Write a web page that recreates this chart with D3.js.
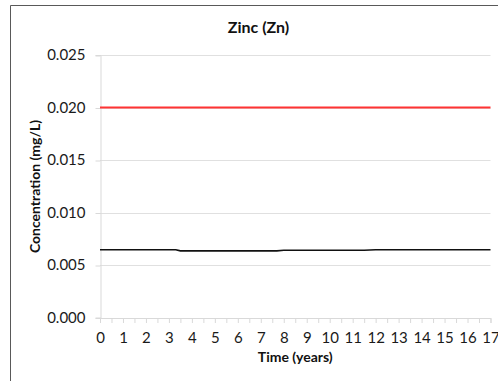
<!DOCTYPE html>
<html>
<head>
<meta charset="utf-8">
<script src="https://cdn.jsdelivr.net/npm/d3@7"></script>
<style>
  body { margin: 0; background: #fff; }
  svg { display: block; font-family: Lato, "Open Sans", sans-serif; }
</style>
</head>
<body>
<svg id="chart" width="498" height="381"></svg>
<script>
// Chart data
const chartTitle = "Zinc (Zn)";
const xLabel = "Time (years)";
const yLabel = "Concentration  (mg/L)";

const yTicks = [0, 0.005, 0.010, 0.015, 0.020, 0.025];
const xTicks = d3.range(0, 18, 1);
const xMinorTicks = d3.range(0, 17.01, 0.5);

// guideline (red) and modelled concentration (black)
const limitYears = [0, 17];
const limitValues = [0.020, 0.020];
const zincYears = [0, 3.3, 3.5, 7.7, 8, 11.5, 12, 17];
const zincValues = [0.00645, 0.00645, 0.00635, 0.00635, 0.0064, 0.0064, 0.00645, 0.00645];

const svg = d3.select("#chart");

// frame (cropped chart border)
svg.append("path")
    .attr("d", "M10.5,381 V5.5 H498")
    .attr("fill", "none")
    .attr("stroke", "#595959")
    .attr("stroke-width", 1);

const x = d3.scaleLinear().domain([0, 17]).range([100, 490.5]);
const y = d3.scaleLinear().domain([0, 0.025]).range([317.5, 55]);

// gridlines
svg.append("g")
    .selectAll("line")
    .data(yTicks.slice(1))
    .enter()
    .append("line")
    .attr("x1", x(0))
    .attr("x2", x(17))
    .attr("y1", d => Math.round(y(d)) + 0.5)
    .attr("y2", d => Math.round(y(d)) + 0.5)
    .attr("stroke", "#e0e0e0");

// y axis
const yAxis = d3.axisLeft(y)
    .tickValues(yTicks)
    .tickFormat(d3.format(".3f"))
    .tickSize(5)
    .tickPadding(10);

const gy = svg.append("g")
    .attr("transform", `translate(${x(0) + 0.5},0)`)
    .call(yAxis);
gy.select(".domain").attr("stroke", "#d9d9d9");
gy.selectAll(".tick line").attr("stroke", "#d9d9d9")
    .attr("transform", "translate(0,0.5)");
gy.selectAll(".tick text")
    .attr("font-size", "15px")
    .attr("fill", "#1a1a1a")
    .attr("font-family", "Lato, sans-serif");

// x axis, minor ticks every half year
const gxMinor = svg.append("g")
    .attr("transform", `translate(0,${y(0) + 0.5})`)
    .call(d3.axisBottom(x).tickValues(xMinorTicks).tickSize(5).tickFormat(""));
gxMinor.select(".domain").attr("stroke", "#d9d9d9");
gxMinor.selectAll(".tick line").attr("stroke", "#d9d9d9");

const gx = svg.append("g")
    .attr("transform", `translate(0,${y(0) + 0.5})`)
    .call(d3.axisBottom(x).tickValues(xTicks).tickSize(0).tickPadding(14));
gx.select(".domain").remove();
gx.selectAll(".tick text")
    .attr("font-size", "15px")
    .attr("fill", "#1a1a1a")
    .attr("font-family", "Lato, sans-serif");

// lines
const lineGen = d3.line()
    .x(d => x(d[0]))
    .y(d => y(d[1]));

svg.append("path")
    .datum(d3.zip(limitYears, limitValues))
    .attr("fill", "none")
    .attr("stroke", "#ff3333")
    .attr("stroke-width", 2)
    .attr("d", lineGen);

svg.append("path")
    .datum(d3.zip(zincYears, zincValues))
    .attr("fill", "none")
    .attr("stroke", "#111")
    .attr("stroke-width", 1.6)
    .attr("d", lineGen);

// titles
svg.append("text")
    .attr("x", 258.5)
    .attr("y", 33)
    .attr("text-anchor", "middle")
    .attr("font-size", "16px")
    .attr("font-weight", "bold")
    .attr("fill", "#111")
    .text(chartTitle);

svg.append("text")
    .attr("x", (x(0) + x(17)) / 2)
    .attr("y", 362)
    .attr("text-anchor", "middle")
    .attr("font-size", "14px")
    .attr("font-weight", "bold")
    .attr("fill", "#111")
    .text(xLabel);

svg.append("text")
    .attr("transform", "rotate(-90)")
    .attr("x", -186.5)
    .attr("y", 40)
    .attr("text-anchor", "middle")
    .attr("font-size", "14px")
    .attr("font-weight", "bold")
    .attr("fill", "#111")
    .text(yLabel);
</script>
</body>
</html>
